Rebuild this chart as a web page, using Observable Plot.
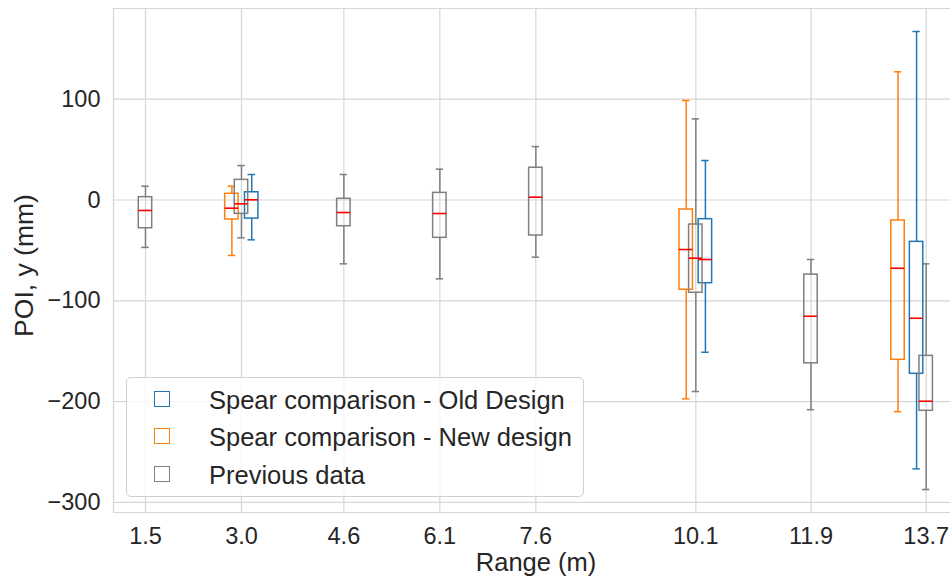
<!DOCTYPE html>
<html>
<head>
<meta charset="utf-8">
<script src="https://cdn.jsdelivr.net/npm/d3@7"></script>
<script src="https://cdn.jsdelivr.net/npm/@observablehq/plot@0.6"></script>
<style>
  html, body { margin: 0; padding: 0; background: white; overflow: hidden; }
  #wrap { position: relative; width: 950px; height: 581px; font-family: "Liberation Sans", Arial, sans-serif; }
  #legend { position: absolute; left: 126px; top: 377px; width: 458px; height: 120px;
    border: 1px solid #d0d0d0; border-radius: 5px; background: rgba(255,255,255,0.8); box-sizing: border-box; }
  .item { position: absolute; left: 0; height: 30px; }
  .sw { position: absolute; left: 27px; width: 14px; height: 14px; border-width: 1.6px; border-style: solid; }
  .lab { position: absolute; left: 82px; white-space: nowrap; font-size: 25.5px; color: #262626; line-height: 30px; }
</style>
</head>
<body>
<div id="wrap"></div>
<script>
// ---- Data ----
const xTicks = [1.5, 3.0, 4.6, 6.1, 7.6, 10.1, 11.9, 13.7];
const yTicks = [-300, -200, -100, 0, 100];
const xLabel = "Range (m)";
const yLabel = "POI, y (mm)";
const seriesNames = ["Spear comparison - Old Design", "Spear comparison - New design", "Previous data"];
const seriesColors = ["#1f77b4", "#ff7f0e", "#7f7f7f"];

// Old Design (blue)
const oldX    = [3.16, 10.25, 13.55];
const oldLow  = [-39.5, -151, -266.7];
const oldQ1   = [-18.4, -82.5, -172.4];
const oldMed  = [0.2, -59, -117.3];
const oldQ3   = [7.7, -19, -41.5];
const oldHigh = [25.3, 39.2, 167.2];

// New design (orange)
const newX    = [2.85, 9.95, 13.26];
const newLow  = [-55, -197.2, -210];
const newQ1   = [-19.3, -89, -158.5];
const newMed  = [-8.1, -49.1, -67.7];
const newQ3   = [6.2, -9.4, -20.3];
const newHigh = [13.7, 98.7, 127.2];

// Previous data (gray)
const prevX    = [1.5, 3.0, 4.6, 6.1, 7.6, 10.1, 11.9, 13.7];
const prevLow  = [-47, -37.5, -63.3, -78.2, -56.7, -190, -208, -287.2];
const prevQ1   = [-28, -13.7, -26, -37.5, -35.2, -92, -162, -209.1];
const prevMed  = [-10.4, -3.8, -12.4, -13.4, 2.8, -57.7, -115.3, -199.6];
const prevQ3   = [2.8, 20, 1.2, 7.1, 32, -24.3, -74, -154.6];
const prevHigh = [13.7, 34.2, 25.3, 30.6, 53, 80.5, -59, -63.3];

// ---- Build table ----
function build(name, X, L, Q1, M, Q3, H) {
  return X.map((x, i) => ({series: name, x, low: L[i], q1: Q1[i], med: M[i], q3: Q3[i], high: H[i]}));
}
const rows = [
  ...build(seriesNames[0], oldX, oldLow, oldQ1, oldMed, oldQ3, oldHigh),
  ...build(seriesNames[1], newX, newLow, newQ1, newMed, newQ3, newHigh),
  ...build(seriesNames[2], prevX, prevLow, prevQ1, prevMed, prevQ3, prevHigh)
];

const hw = 0.105;   // half box width (m)
const cw = 0.058;   // half cap width (m)
const gridColor = "#d6d6d6";
const textColor = "#262626";

const color = {domain: seriesNames, range: seriesColors};

const chart = Plot.plot({
  width: 950,
  height: 581,
  marginLeft: 113,
  marginRight: 0,
  marginTop: 8,
  marginBottom: 69,
  style: {fontFamily: "'Liberation Sans', Arial, sans-serif", color: textColor, background: "white"},
  x: {domain: [1.0, 14.08]},
  y: {domain: [-310, 190]},
  color,
  marks: [
    Plot.gridX(xTicks, {stroke: gridColor, strokeOpacity: 1, strokeWidth: 1.2}),
    Plot.gridY(yTicks, {stroke: gridColor, strokeOpacity: 1, strokeWidth: 1.2}),
    Plot.frame({anchor: "left", stroke: gridColor, strokeWidth: 1.2}),
    Plot.frame({anchor: "top", stroke: gridColor, strokeWidth: 1.2}),
    Plot.frame({anchor: "bottom", stroke: gridColor, strokeWidth: 1.2}),
    Plot.axisX({ticks: xTicks, tickFormat: d => d.toFixed(1), tickSize: 0, tickPadding: 15, fontSize: 23.5, label: null}),
    Plot.axisY({ticks: yTicks, tickSize: 0, tickPadding: 13, fontSize: 23.5, label: null}),
    // whiskers
    Plot.ruleX(rows, {x: "x", y1: "low", y2: "q1", stroke: "series", strokeWidth: 1.5}),
    Plot.ruleX(rows, {x: "x", y1: "q3", y2: "high", stroke: "series", strokeWidth: 1.5}),
    // caps
    Plot.ruleY(rows, {y: "low", x1: d => d.x - cw, x2: d => d.x + cw, stroke: "series", strokeWidth: 1.5}),
    Plot.ruleY(rows, {y: "high", x1: d => d.x - cw, x2: d => d.x + cw, stroke: "series", strokeWidth: 1.5}),
    // boxes
    Plot.rect(rows, {x1: d => d.x - hw, x2: d => d.x + hw, y1: "q1", y2: "q3", fill: "none", stroke: "series", strokeWidth: 1.5}),
    // medians
    Plot.ruleY(rows, {y: "med", x1: d => d.x - hw, x2: d => d.x + hw, stroke: "#ff0000", strokeWidth: 1.6}),
    // axis labels
    Plot.text([xLabel], {text: d => d, frameAnchor: "bottom", textAnchor: "middle", dy: 50, dx: 4, fontSize: 25.5, fill: textColor, lineAnchor: "middle"}),
    Plot.text([yLabel], {text: d => d, frameAnchor: "left", textAnchor: "middle", rotate: -90, dx: -89, dy: 5, fontSize: 26.5, fill: textColor, lineAnchor: "middle"})
  ]
});

const wrap = document.getElementById("wrap");
wrap.appendChild(chart);

// legend overlay
const leg = document.createElement("div");
leg.id = "legend";
const rowCenters = [22, 59, 97];
seriesNames.forEach((name, i) => {
  const it = document.createElement("div");
  it.className = "item";
  it.style.top = (rowCenters[i] - 15) + "px";
  const sw = document.createElement("div");
  sw.className = "sw";
  sw.style.borderColor = seriesColors[i];
  sw.style.top = "6px";
  const lab = document.createElement("div");
  lab.className = "lab";
  lab.textContent = name;
  it.appendChild(sw);
  it.appendChild(lab);
  leg.appendChild(it);
});
wrap.appendChild(leg);
</script>
</body>
</html>
